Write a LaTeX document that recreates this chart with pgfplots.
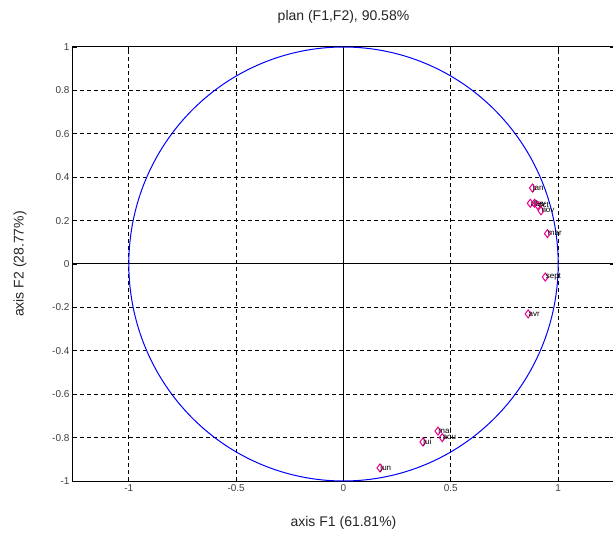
\documentclass[border=0pt]{standalone}
\usepackage{pgfplots}
\pgfplotsset{compat=1.18}
\usepackage{fontspec}
\setmainfont{Liberation Sans}
\pgfplotstableread{
x y label
0.88 0.35 jan
0.87 0.28 dec
0.89 0.28 fev
0.905 0.27 oct
0.92 0.245 nov
0.95 0.14 mar
0.94 -0.06 sept
0.86 -0.23 avr
0.44 -0.77 mai
0.46 -0.80 aou
0.37 -0.82 jui
0.17 -0.94 jun
}\pts
\begin{document}
\begin{tikzpicture}
\path[use as bounding box] (-73pt,-55pt) rectangle (540pt,481pt);
\fill[white] (-73pt,-55pt) rectangle (540pt,481pt);
\begin{axis}[at={(0pt,0pt)}, anchor=south west, scale only axis,
  width=541pt, height=434pt,
  xmin=-1.26, xmax=1.26, ymin=-1, ymax=1,
  xtick={-1,-0.5,0,0.5,1},
  ytick={-1,-0.8,-0.6,-0.4,-0.2,0,0.2,0.4,0.6,0.8,1},
  xticklabels={-1,-0.5,0,0.5,1},
  yticklabels={-1,-0.8,-0.6,-0.4,-0.2,0,0.2,0.4,0.6,0.8,1},
  grid=major,
  major grid style={black, dash pattern=on 4pt off 3pt, line width=1pt},
  tick align=inside, major tick length=4pt,
  tick style={black, line width=0.9pt},
  axis line style={black, line width=1pt},
  ticklabel style={font=\fontsize{10}{12}\selectfont, text=black!75},
  title={plan (F1,F2), 90.58\%},
  title style={at={([yshift=24pt]axis description cs:0.5,1)}, anchor=center, font=\fontsize{14}{16}\selectfont, text=black!85},
  xlabel={axis F1 (61.81\%)},
  xlabel style={at={([yshift=-42pt]axis description cs:0.5,0)}, anchor=center, font=\fontsize{14}{16}\selectfont, text=black!85},
  ylabel={axis F2 (28.77\%)},
  ylabel style={at={([xshift=-53pt]axis description cs:0,0.5)}, anchor=center, font=\fontsize{14}{16}\selectfont, text=black!85},
  clip=false,
]
\addplot[black, line width=1pt, forget plot] coordinates {(-1.26,0) (1.26,0)};
\addplot[black, line width=1pt, forget plot] coordinates {(0,-1) (0,1)};
\addplot[blue, line width=1pt, domain=0:360, samples=181, smooth] ({cos(x)},{sin(x)});
\addplot[only marks, mark=diamond, mark size=4pt, mark options={magenta, line width=1pt},
  nodes near coords, point meta=explicit symbolic,
  nodes near coords style={anchor=west, xshift=-1pt, font=\fontsize{8}{9}\selectfont, text=black, inner sep=1pt}]
  table[x=x, y=y, meta=label] {\pts};
\end{axis}
\end{tikzpicture}
\end{document}
